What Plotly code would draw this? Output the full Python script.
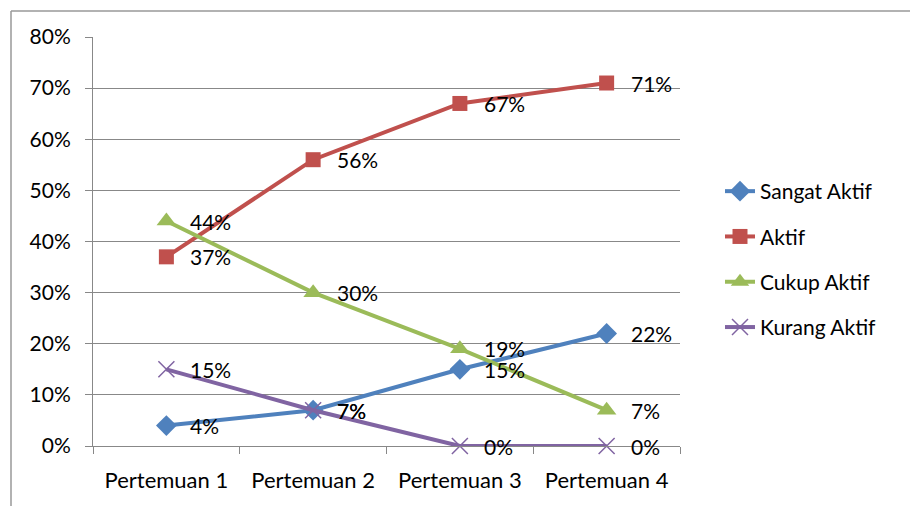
import plotly.graph_objects as go

categories = ["Pertemuan 1", "Pertemuan 2", "Pertemuan 3", "Pertemuan 4"]
sangat_aktif = [0.04, 0.07, 0.15, 0.22]
aktif = [0.37, 0.56, 0.67, 0.71]
cukup_aktif = [0.44, 0.30, 0.19, 0.07]
kurang_aktif = [0.15, 0.07, 0.00, 0.00]

series = [
    ("Sangat Aktif", sangat_aktif, "#4F81BD", "diamond", 16),
    ("Aktif", aktif, "#C0504D", "square", 15),
    ("Cukup Aktif", cukup_aktif, "#9BBB59", "triangle-up", 17),
    ("Kurang Aktif", kurang_aktif, "#8064A2", "x-thin", 16),
]

FONT = "Lato"
FS = 21
fig = go.Figure()
annotations = []
for name, vals, col, sym, sz in series:
    marker = dict(symbol=sym, size=sz, color=col)
    if sym == "x-thin":
        marker["line"] = dict(color=col, width=1.5)
    fig.add_trace(go.Scatter(
        x=categories, y=vals, name=name, mode="lines+markers",
        line=dict(color=col, width=4), marker=marker,
        legendgroup=name, cliponaxis=False,
    ))
    for c, v in zip(categories, vals):
        annotations.append(dict(
            x=c, y=v, xref="x", yref="y", text=f"{round(v*100)}%",
            showarrow=False, xanchor="left", yanchor="middle", xshift=22,
            font=dict(family=FONT, size=FS, color="#000000"),
        ))

L, R, T, B = 93, 230, 37, 60
W, H = 910, 506
pw, ph = W - L - R, H - T - B
def px(xp): return (xp - L) / pw
def py(yp): return 1 - (yp - T) / ph

fig.update_layout(
    width=W, height=H,
    margin=dict(l=L, r=R, t=T, b=B),
    paper_bgcolor="white", plot_bgcolor="white",
    font=dict(family=FONT, size=FS, color="#000000"),
    showlegend=True,
    legend=dict(x=px(720), y=py(171), xanchor="left", yanchor="top",
                font=dict(family=FONT, size=FS), tracegroupgap=15,
                bgcolor="rgba(0,0,0,0)"),
    annotations=annotations,
    xaxis=dict(type="category", range=[-0.5, 3.5], showgrid=False,
               showline=True, linecolor="#888888", linewidth=1,
               ticks="outside", tickson="boundaries", ticklen=7,
               tickcolor="#888888", ticklabelstandoff=15,
               tickfont=dict(family=FONT, size=22)),
    yaxis=dict(range=[0, 0.8], dtick=0.1, tickformat=".0%",
               showgrid=True, gridcolor="#888888", gridwidth=1,
               showline=True, linecolor="#888888", linewidth=1,
               ticks="outside", ticklen=7, tickcolor="#888888",
               ticklabelstandoff=10,
               zeroline=False, tickfont=dict(family=FONT, size=FS)),
    shapes=[
        dict(type="line", xref="paper", yref="paper",
             x0=px(11), x1=px(11), y0=py(11), y1=py(506),
             line=dict(color="#999999", width=1.5)),
        dict(type="line", xref="paper", yref="paper",
             x0=px(11), x1=px(910), y0=py(11), y1=py(11),
             line=dict(color="#999999", width=1.5)),
    ],
)
fig.write_html("out.html")
